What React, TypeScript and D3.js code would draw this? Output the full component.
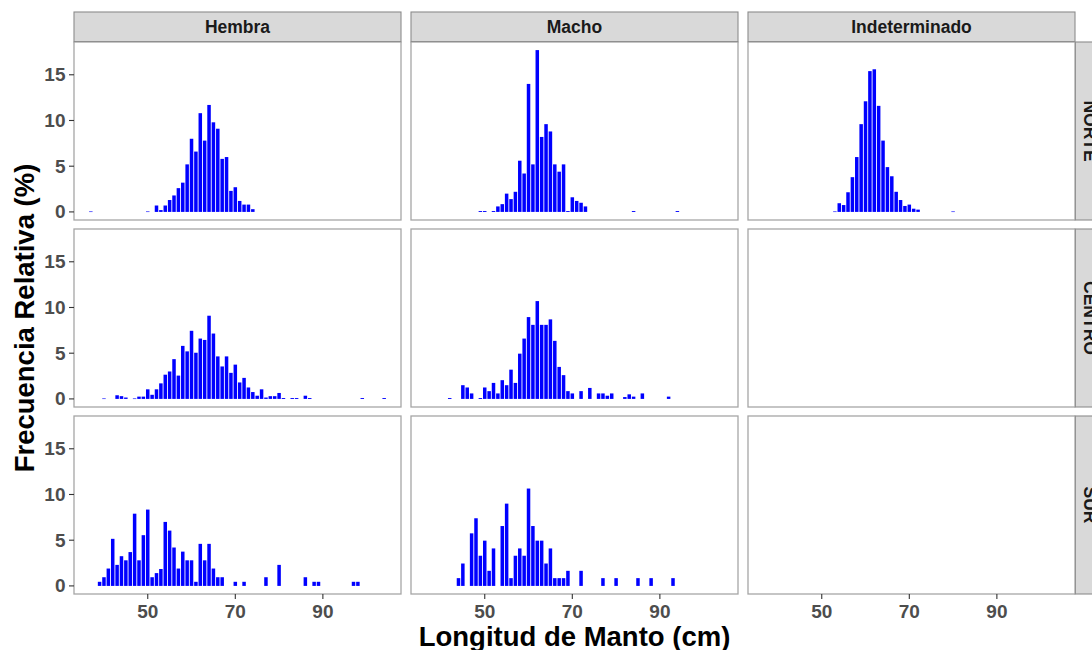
import React from "react";
import * as d3 from "d3";

// Facet categories
const sexes = ["Hembra", "Macho", "Indeterminado"];
const zones = ["NORTE", "CENTRO", "SUR"];

// Axis ticks
const xTicks = [50, 70, 90];
const yTicks = [0, 5, 10, 15];

// Mantle length (cm) -> relative frequency (%)
const hembraNorte: [number, number][] = [
  [37, 0.05], [50, 0.05], [52, 0.7], [53, 0.2], [54, 0.7], [55, 1.3], [56, 1.8], [57, 2.6],
  [58, 3.2], [59, 5.2], [60, 8.0], [61, 6.6], [62, 10.8], [63, 7.8], [64, 11.7], [65, 9.8],
  [66, 9.1], [67, 5.8], [68, 6.0], [69, 2.3], [70, 2.7], [71, 1.2], [72, 0.8], [73, 0.8], [74, 0.3],
];
const machoNorte: [number, number][] = [
  [49, 0.1], [50, 0.1], [52, 0.1], [53, 0.6], [54, 0.85], [55, 2.0], [56, 1.4], [57, 2.2],
  [58, 5.6], [59, 4.2], [60, 14.0], [61, 5.2], [62, 17.7], [63, 8.2], [64, 9.6], [65, 8.8],
  [66, 5.2], [67, 4.4], [68, 5.2], [69, 0.1], [70, 1.6], [71, 1.2], [72, 1.0], [73, 0.6],
  [84, 0.1], [94, 0.1],
];
const indetNorte: [number, number][] = [
  [53, 0.05], [54, 0.95], [55, 0.75], [56, 2.15], [57, 3.8], [58, 6.0], [59, 9.6], [60, 12.1],
  [61, 15.4], [62, 15.6], [63, 11.6], [64, 7.8], [65, 4.9], [66, 3.9], [67, 2.2], [68, 1.3],
  [69, 0.65], [70, 0.8], [71, 0.35], [72, 0.25], [80, 0.05],
];
const hembraCentro: [number, number][] = [
  [40, 0.05], [43, 0.4], [44, 0.3], [45, 0.15], [47, 0.05], [48, 0.25], [49, 0.25], [50, 1.05],
  [51, 0.45], [52, 1.05], [53, 1.7], [54, 2.65], [55, 3.0], [56, 4.35], [57, 2.55], [58, 5.8],
  [59, 5.2], [60, 7.45], [61, 5.05], [62, 6.6], [63, 6.45], [64, 9.1], [65, 7.15], [66, 4.65],
  [67, 3.55], [68, 4.65], [69, 2.85], [70, 3.75], [71, 1.8], [72, 2.3], [73, 1.25], [74, 0.75],
  [75, 0.35], [76, 1.05], [77, 0.15], [78, 0.3], [79, 0.3], [80, 0.65], [81, 0.1], [83, 0.1],
  [84, 0.1], [86, 0.35], [87, 0.1], [99, 0.1], [104, 0.1],
];
const machoCentro: [number, number][] = [
  [42, 0.1], [45, 1.5], [46, 1.25], [47, 0.6], [49, 0.1], [50, 1.25], [51, 0.85], [52, 1.75],
  [53, 0.6], [54, 2.05], [55, 1.5], [56, 3.2], [57, 1.75], [58, 4.95], [59, 6.6], [60, 8.95],
  [61, 8.1], [62, 10.7], [63, 8.1], [64, 8.1], [65, 8.7], [66, 6.35], [67, 3.5], [68, 2.6],
  [69, 0.85], [70, 0.6], [72, 0.85], [74, 1.2], [76, 0.6], [77, 0.6], [78, 0.35], [79, 0.6],
  [82, 0.2], [83, 0.5], [84, 0.25], [86, 0.6], [92, 0.25],
];
const hembraSur: [number, number][] = [
  [39, 0.45], [40, 0.95], [41, 1.9], [42, 5.15], [43, 2.3], [44, 3.25], [45, 2.8], [46, 3.7],
  [47, 7.9], [48, 2.8], [49, 5.55], [50, 8.35], [51, 0.95], [52, 1.4], [53, 1.85], [54, 7.0],
  [55, 6.05], [56, 4.2], [57, 1.9], [58, 3.75], [59, 2.8], [60, 2.8], [61, 0.45], [62, 4.6],
  [63, 2.8], [64, 4.6], [65, 1.9], [66, 0.95], [67, 0.95], [70, 0.45], [72, 0.45], [77, 0.95],
  [80, 2.3], [86, 0.95], [88, 0.45], [89, 0.45], [97, 0.45], [98, 0.45],
];
const machoSur: [number, number][] = [
  [44, 0.85], [45, 2.45], [47, 5.75], [48, 7.4], [49, 3.3], [50, 4.95], [51, 1.65], [52, 4.1],
  [54, 6.55], [55, 9.0], [56, 0.85], [57, 3.3], [58, 4.1], [59, 3.3], [60, 10.65], [61, 6.55],
  [62, 4.95], [63, 4.95], [64, 2.45], [65, 4.1], [66, 0.85], [67, 0.85], [68, 0.85], [69, 1.65],
  [72, 1.65], [77, 0.85], [80, 0.85], [85, 0.85], [88, 0.85], [93, 0.85],
];

// rows = zones, columns = sexes
const panels: [number, number][][][] = [
  [hembraNorte, machoNorte, indetNorte],
  [hembraCentro, machoCentro, []],
  [hembraSur, machoSur, []],
];

const W = 1092;
const H = 650;
const colX = [74, 411, 748];
const rowY = [42, 229, 416];
const panelW = 327;
const panelH = 178;
const stripH = 30;
const stripW = 30;
const FONT = "'Liberation Sans', Arial, Helvetica, sans-serif";
const BAR_W = 0.9;
const BAR_DRAWN = 0.8;

const all = panels.flat(2);
const lenMin = d3.min(all, (d) => d[0])! - BAR_W / 2;
const lenMax = d3.max(all, (d) => d[0])! + BAR_W / 2;
const lenPad = (lenMax - lenMin) * 0.05;
const freqMax = d3.max(all, (d) => d[1])!;

const xScale = d3.scaleLinear().domain([lenMin - lenPad, lenMax + lenPad]).range([0, panelW]);
const yScale = d3.scaleLinear().domain([-freqMax * 0.05, freqMax * 1.05]).range([panelH, 0]);

export default function App() {
  return (
    <svg
      width={W}
      height={H}
      style={{ position: "absolute", left: 0, top: 0, background: "#fff" }}
      fontFamily={FONT}
    >
      <rect x={0} y={0} width={W} height={H} fill="#fff" />

      {/* column strips */}
      {sexes.map((s, ci) => (
        <g key={s} transform={`translate(${colX[ci]},${rowY[0] - stripH})`}>
          <rect width={panelW} height={stripH} fill="#d9d9d9" stroke="#8c8c8c" strokeWidth={1.1} />
          <line x1={0} x2={panelW} y1={stripH} y2={stripH} stroke="#4d4d4d" strokeWidth={1.3} />
          <text
            x={panelW / 2}
            y={stripH / 2}
            textAnchor="middle"
            dominantBaseline="central"
            fontSize={17.5}
            fontWeight="bold"
            fill="#1a1a1a"
          >
            {s}
          </text>
        </g>
      ))}

      {/* row strips */}
      {zones.map((z, ri) => (
        <g key={z} transform={`translate(${colX[2] + panelW},${rowY[ri]})`}>
          <rect width={stripW} height={panelH} fill="#d9d9d9" stroke="#8c8c8c" strokeWidth={1.1} />
          <line x1={0} x2={0} y1={0} y2={panelH} stroke="#4d4d4d" strokeWidth={1.3} />
          <text
            transform={`translate(${stripW / 2},${panelH / 2}) rotate(90)`}
            textAnchor="middle"
            dominantBaseline="central"
            fontSize={17.5}
            fontWeight="bold"
            fill="#1a1a1a"
          >
            {z}
          </text>
        </g>
      ))}

      {/* panels */}
      {zones.map((z, ri) =>
        sexes.map((s, ci) => (
          <g key={`${z}-${s}`} transform={`translate(${colX[ci]},${rowY[ri]})`}>
            <rect width={panelW} height={panelH} fill="#fff" />
            {panels[ri][ci].map(([len, freq]) => (
              <rect
                key={len}
                x={xScale(len - BAR_DRAWN / 2)}
                width={xScale(len + BAR_DRAWN / 2) - xScale(len - BAR_DRAWN / 2)}
                y={yScale(freq)}
                height={Math.max(0.6, yScale(0) - yScale(freq))}
                fill="#0000ff"
              />
            ))}
            <rect width={panelW} height={panelH} fill="none" stroke="#a6a6a6" strokeWidth={1.3} />
          </g>
        ))
      )}

      {/* y axes */}
      {zones.map((z, ri) => (
        <g key={`y-${z}`} transform={`translate(${colX[0]},${rowY[ri]})`}>
          {yTicks.map((t) => (
            <g key={t} transform={`translate(0,${yScale(t)})`}>
              <line x1={-5} x2={0} stroke="#333" strokeWidth={1.1} />
              <text
                x={-8.5}
                textAnchor="end"
                dominantBaseline="central"
                fontSize={19}
                fontWeight="bold"
                fill="#4d4d4d"
              >
                {t}
              </text>
            </g>
          ))}
        </g>
      ))}

      {/* x axes */}
      {sexes.map((s, ci) => (
        <g key={`x-${s}`} transform={`translate(${colX[ci]},${rowY[2] + panelH})`}>
          {xTicks.map((t) => (
            <g key={t} transform={`translate(${xScale(t)},0)`}>
              <line y1={0} y2={5} stroke="#333" strokeWidth={1.1} />
              <text y={23.5} textAnchor="middle" fontSize={19} fontWeight="bold" fill="#4d4d4d">
                {t}
              </text>
            </g>
          ))}
        </g>
      ))}

      {/* axis titles */}
      <text
        x={(colX[0] + colX[2] + panelW) / 2}
        y={646}
        textAnchor="middle"
        fontSize={27.5}
        fontWeight="bold"
        fill="#000"
      >
        Longitud de Manto (cm)
      </text>
      <text
        transform={`translate(34,${(rowY[0] + rowY[2] + panelH) / 2}) rotate(-90)`}
        textAnchor="middle"
        fontSize={27.5}
        fontWeight="bold"
        fill="#000"
      >
        Frecuencia Relativa (%)
      </text>
    </svg>
  );
}
